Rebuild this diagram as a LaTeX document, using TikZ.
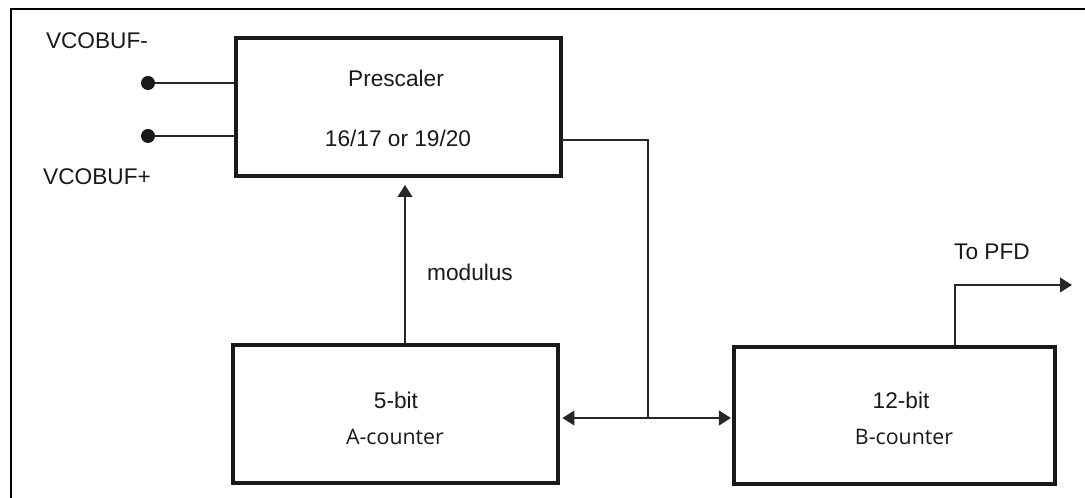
\documentclass[tikz,border=0pt]{standalone}
\usepackage{fontspec}
\setmainfont{Liberation Sans}
\newfontfamily\cntfont{Open Sans}
\usetikzlibrary{arrows.meta}

\begin{document}
\begin{tikzpicture}[x=0.75pt,y=-0.75pt,>={Triangle[length=9pt,width=11pt]}]
\tikzset{
    blk/.style={%
        draw=black!90, line width=2.6pt,
        rectangle,
        minimum height=103.5pt,
        minimum width=243.75pt
        },
    wire/.style={draw=black!85, line width=1.5pt},
    pin/.style={circle, fill=black!90, inner sep=0pt, minimum size=10.5pt},
    lbl/.style={inner sep=0pt, text=black!90, font=\fontsize{17}{20}\selectfont},
    cnt/.style={inner sep=0pt, text=black!90, font=\cntfont\fontsize{16}{19}\selectfont},
}
\useasboundingbox (0,0) rectangle (1085,498);
\clip (0,0) rectangle (1085,498);
%%%FRAME
\draw[line width=1.8pt] (1090,9) -- (11,9) -- (11,505);
%%%BLOCKS
\node[blk] (pre) at (398.5,107) {};
\node[blk] (acnt) at (395.5,414) {};
\node[blk, minimum width=240.75pt, minimum height=102.75pt] (bcnt) at (894.5,415.5) {};
\node[lbl] (pre1) at (396,78) {Prescaler};
\node[lbl] (pre2) at (398,138) {16/17 or 19/20};
\node[lbl] (abit) at (396,400) {5-bit};
\node[cnt] (aname) at (395,437) {A-counter};
\node[lbl] (bbit) at (901,400) {12-bit};
\node[cnt] (bname) at (904,437) {B-counter};
%%%INPUTS
\node[pin] (inm) at (148,83) {};
\node[pin] (inp) at (148,136) {};
\node[lbl] (inmtxt) at (97,41) {VCOBUF-};
\node[lbl] (inptxt) at (97,177) {VCOBUF+};
\draw[wire] (inm) -- (inm -| pre.west);
\draw[wire] (inp) -- (inp -| pre.west);
%%%CONNECTIONS
\coordinate (pout) at (561,140);
\coordinate (tap) at (648,418);
\draw[wire] (pout) -| (tap);
\draw[wire,<->] ([xshift=2pt]acnt.east |- tap) -- ([xshift=-1pt]bcnt.west |- tap);
\coordinate (modtip) at (405,185);
\draw[wire,->] (acnt.north -| modtip) -- (modtip);
\node[lbl] (modtxt) at (470,272) {modulus};
\coordinate (pfdx) at (955,285);
\coordinate (pfd) at (1072,285);
\draw[wire,->] (bcnt.north -| pfdx) -- (pfdx) -- (pfd);
\node[lbl] (pfdtxt) at (992,252) {To PFD};
\end{tikzpicture}
\end{document}
